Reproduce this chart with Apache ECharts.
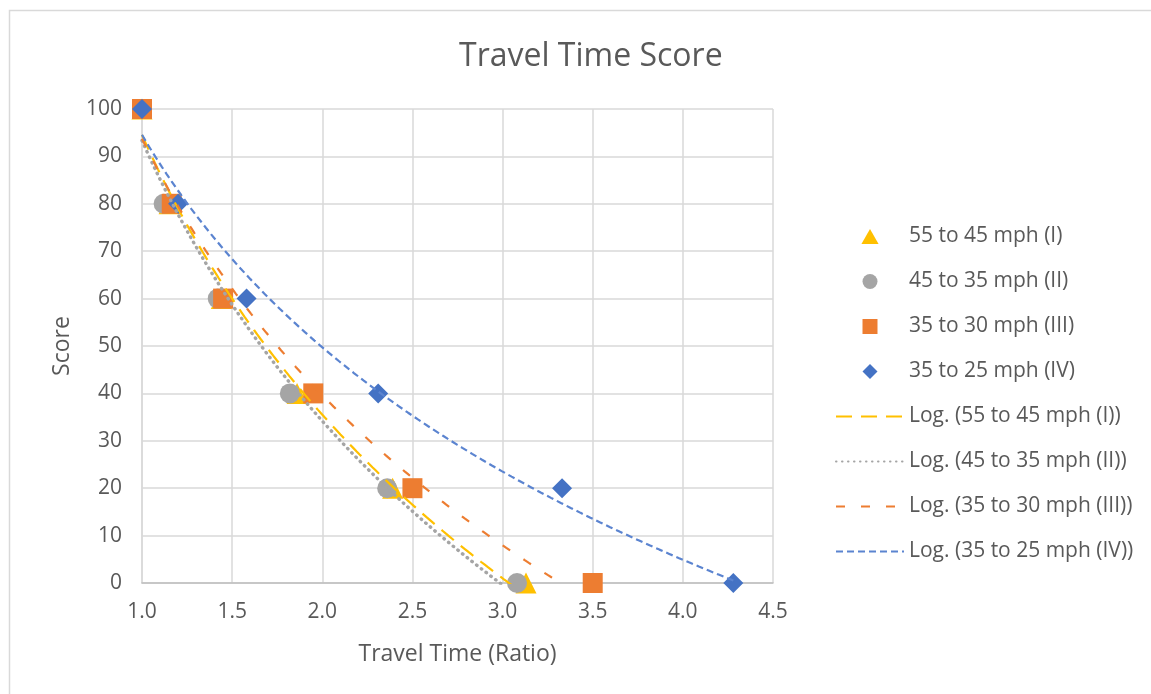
<!DOCTYPE html>
<html>
<head>
<meta charset="utf-8">
<title>Travel Time Score</title>
<script src="https://cdn.jsdelivr.net/npm/echarts@6/dist/echarts.min.js"></script>
<style>
    html, body { margin: 0; padding: 0; background: #fff; }
    #chart { width: 1151px; height: 694px; }
</style>
</head>
<body>
<div id="chart"></div>
<script>
// scores on the y axis, shared by every series
let scores = [100, 80, 60, 40, 20, 0];

// travel time ratio for each score
let ratioI = [1.0, 1.15, 1.44, 1.86, 2.39, 3.13];
let ratioII = [1.0, 1.12, 1.42, 1.82, 2.36, 3.08];
let ratioIII = [1.0, 1.165, 1.45, 1.95, 2.5, 3.5];
let ratioIV = [1.0, 1.2, 1.58, 2.31, 3.33, 4.28];

let names = ["55 to 45 mph (I)", "45 to 35 mph (II)", "35 to 30 mph (III)", "35 to 25 mph (IV)"];
let colors = ["#FFC000", "#A5A5A5", "#ED7D31", "#4472C4"];
let symbols = ["triangle", "circle", "rect", "diamond"];
// legend icons as paths so they keep their shape in a wide icon box
let legendIcons = ["path://M8,0L16,14L0,14Z", "circle", "path://M0,0H14V14H0Z", "path://M7,0L14,7L7,14L0,7Z"];

let xTicks = [1.0, 1.5, 2.0, 2.5, 3.0, 3.5, 4.0, 4.5];

let font = "'Open Sans', 'Noto Sans', sans-serif";
let textColor = "#595959";

// logarithmic trendline y = a*ln(x) + b, least squares like Excel does
function logFit(xs, ys) {
    let n = xs.length;
    let lx = xs.map(v => Math.log(v));
    let mx = lx.reduce((s, v) => s + v, 0) / n;
    let my = ys.reduce((s, v) => s + v, 0) / n;
    let sxy = 0, sxx = 0;
    for (let i = 0; i < n; i++) {
        sxy += (lx[i] - mx) * (ys[i] - my);
        sxx += (lx[i] - mx) * (lx[i] - mx);
    }
    let a = sxy / sxx;
    let b = my - a * mx;
    let lo = Math.min(...xs), hi = Math.max(...xs);
    let pts = [];
    for (let i = 0; i <= 120; i++) {
        let x = lo + (hi - lo) * i / 120;
        pts.push([x, a * Math.log(x) + b]);
    }
    return pts;
}

let ratios = [ratioI, ratioII, ratioIII, ratioIV];
let dashes = [
    {type: [16, 9], width: 2.2, cap: "butt"},
    {type: [0.5, 5.5], width: 3.4, cap: "round"},
    {type: [9, 16], width: 2.2, cap: "butt"},
    {type: [7, 4], width: 2.2, cap: "butt"}
];
let trendColors = ["#FFC000", "#A5A5A5", "#ED7D31", "#5B84D0"];

let series = [];
let legendData = [];
ratios.forEach((r, i) => {
    series.push({
        name: names[i],
        type: "scatter",
        symbol: symbols[i],
        symbolSize: i == 0 ? 21 : 20,
        itemStyle: {color: colors[i], opacity: 1},
        data: r.map((x, j) => [x, scores[j]]),
        z: 2
    });
    legendData.push({name: names[i], icon: legendIcons[i]});
});
ratios.forEach((r, i) => {
    let name = "Log. (" + names[i] + ")";
    series.push({
        name: name,
        type: "line",
        showSymbol: false,
        symbol: "none",
        clip: true,
        lineStyle: {
            color: trendColors[i],
            width: dashes[i].width,
            type: dashes[i].type,
            cap: dashes[i].cap
        },
        itemStyle: {color: trendColors[i]},
        data: logFit(r, scores),
        z: 3
    });
    legendData.push({name: name, itemStyle: {opacity: 0}});
});

let myChart = echarts.init(document.getElementById("chart"), null, {renderer: "canvas"});
let option = {
    animation: false,
    backgroundColor: "#fff",
    graphic: [{
        type: "rect",
        shape: {x: 9.5, y: 10.5, width: 1300, height: 900},
        style: {fill: "none", stroke: "#d9d9d9", lineWidth: 1.5},
        silent: true
    }],
    title: {
        text: "Travel Time Score",
        left: 454,
        top: 36,
        textStyle: {fontFamily: font, fontSize: 32, fontWeight: "normal", color: textColor}
    },
    legend: {
        orient: "vertical",
        left: 830,
        top: 221,
        itemWidth: 68,
        itemHeight: 15,
        itemGap: 24,
        symbolKeepAspect: true,
        textStyle: {fontFamily: font, fontSize: 21, color: textColor},
        data: legendData
    },
    grid: {
        left: 142,
        right: 1151 - 773,
        top: 109,
        bottom: 694 - 583,
        containLabel: false
    },
    xAxis: {
        type: "value",
        min: 1.0,
        max: 4.5,
        interval: 0.5,
        name: "Travel Time (Ratio)",
        nameLocation: "middle",
        nameGap: 60,
        nameTextStyle: {fontFamily: font, fontSize: 23, color: textColor},
        axisLine: {show: true, onZero: false, lineStyle: {color: "#bfbfbf", width: 1.5}},
        axisTick: {show: false},
        splitLine: {show: true, lineStyle: {color: "#d9d9d9", width: 1.5}},
        axisLabel: {
            fontFamily: font, fontSize: 21, color: textColor, margin: 19,
            formatter: v => xTicks.includes(v) ? v.toFixed(1) : ""
        }
    },
    yAxis: {
        type: "value",
        min: 0,
        max: 100,
        interval: 10,
        name: "Score",
        nameLocation: "middle",
        nameGap: 68,
        nameRotate: 90,
        nameTextStyle: {fontFamily: font, fontSize: 23, color: textColor},
        axisLine: {show: true, lineStyle: {color: "#d9d9d9", width: 1.5}},
        axisTick: {show: false},
        splitLine: {show: true, lineStyle: {color: "#d9d9d9", width: 1.5}},
        axisLabel: {fontFamily: font, fontSize: 21, color: textColor, margin: 20}
    },
    series: series
};
myChart.setOption(option);
</script>
</body>
</html>
